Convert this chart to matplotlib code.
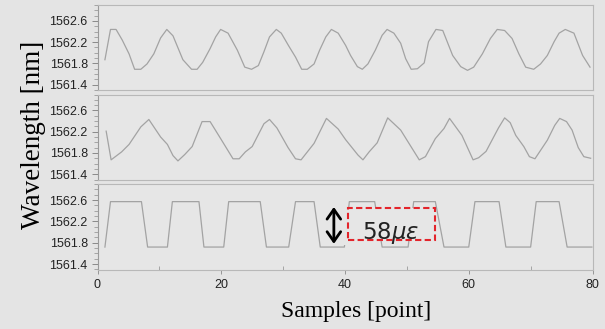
import numpy as np
import matplotlib
matplotlib.use("Agg")
import matplotlib.pyplot as plt
from matplotlib.patches import Rectangle
from matplotlib.ticker import MultipleLocator

# ---- data ----
t1 = [1.2, 2.1, 3.0, 4.0, 5.1, 6.0, 7.0, 8.0, 9.1, 10.2, 11.2, 12.2, 13.8, 15.2, 16.1, 17.0,
      18.2, 19.1, 19.9, 21.1, 22.6, 23.8, 24.9, 26.0, 26.9, 27.8, 28.9, 29.7, 30.9, 32.0,
      33.0, 33.9, 35.0, 35.9, 36.9, 37.8, 38.9, 40.1, 40.9, 42.0, 42.8, 43.7, 44.9, 46.0,
      46.8, 47.9, 49.0, 49.8, 50.7, 51.7, 52.8, 53.5, 54.7, 55.8, 57.4, 58.7, 59.8, 60.8,
      62.2, 63.5, 64.6, 65.8, 67.0, 68.1, 69.2, 70.5, 71.6, 72.7, 73.8, 74.6, 75.6, 77.0,
      78.4, 79.6]
w1 = [1561.87, 1562.44, 1562.44, 1562.24, 1561.98, 1561.69, 1561.69, 1561.79, 1561.98,
      1562.28, 1562.44, 1562.32, 1561.87, 1561.69, 1561.69, 1561.82, 1562.08, 1562.30,
      1562.44, 1562.37, 1562.05, 1561.73, 1561.69, 1561.76, 1562.02, 1562.30, 1562.44,
      1562.37, 1562.13, 1561.92, 1561.69, 1561.69, 1561.79, 1562.05, 1562.30, 1562.44,
      1562.37, 1562.14, 1561.95, 1561.74, 1561.69, 1561.79, 1562.05, 1562.33, 1562.44,
      1562.37, 1562.18, 1561.89, 1561.69, 1561.70, 1561.81, 1562.21, 1562.44, 1562.42,
      1561.95, 1561.74, 1561.67, 1561.73, 1561.98, 1562.27, 1562.44, 1562.42, 1562.27,
      1561.98, 1561.73, 1561.69, 1561.79, 1561.95, 1562.21, 1562.37, 1562.44, 1562.37,
      1561.95, 1561.73]

t2 = [1.4, 2.2, 3.9, 5.1, 7.0, 8.3, 10.2, 11.3, 12.2, 13.0, 14.1, 15.3, 16.9, 18.2, 19.9,
      21.9, 22.9, 23.9, 25.0, 26.9, 27.8, 29.0, 30.8, 32.0, 32.9, 35.0, 37.0, 38.9, 40.1,
      42.1, 42.9, 43.9, 45.2, 46.9, 49.0, 52.0, 53.0, 54.6, 56.0, 56.9, 58.9, 60.7, 61.6,
      62.8, 64.8, 65.8, 66.7, 67.6, 68.9, 69.8, 70.7, 72.7, 73.9, 74.7, 75.8, 76.7, 77.7,
      78.6, 79.7]
w2 = [1562.21, 1561.67, 1561.82, 1561.96, 1562.29, 1562.43, 1562.10, 1561.96, 1561.75,
      1561.65, 1561.77, 1561.92, 1562.39, 1562.39, 1562.07, 1561.69, 1561.69, 1561.82,
      1561.92, 1562.35, 1562.43, 1562.27, 1561.90, 1561.69, 1561.67, 1561.98, 1562.45,
      1562.25, 1562.05, 1561.76, 1561.67, 1561.82, 1561.99, 1562.46, 1562.23, 1561.67,
      1561.73, 1562.07, 1562.26, 1562.45, 1562.13, 1561.67, 1561.71, 1561.83, 1562.27,
      1562.46, 1562.37, 1562.13, 1561.92, 1561.73, 1561.69, 1562.04, 1562.32, 1562.45,
      1562.39, 1562.23, 1561.90, 1561.73, 1561.70]

hi, lo = 1562.57, 1561.72
t3 = [1.2, 2.1, 7.1, 8.1, 11.3, 12.1, 16.4, 17.2, 20.4, 21.2, 26.3, 27.3, 30.9, 32.0, 35.0,
      36.0, 39.9, 40.7, 44.8, 46.0, 50.2, 51.1, 54.6, 56.0, 60.0, 61.0, 64.9, 66.0, 70.0,
      70.9, 74.6, 75.9, 79.9]
w3 = [lo, hi, hi, lo, lo, hi, hi, lo, lo, hi, hi, lo, lo, hi, hi, lo, lo, hi, hi, lo, lo,
      hi, hi, lo, lo, hi, hi, lo, lo, hi, hi, lo, lo]

xticks = [0, 20, 40, 60, 80]
yticks = [1561.4, 1561.8, 1562.2, 1562.6]
strain_label = r"$58\mu\varepsilon$"

# ---- figure ----
W, H = 605, 329
fig = plt.figure(figsize=(W / 100, H / 100), dpi=100)
fig.patch.set_facecolor("#e4e4e4")
BG = "#e6e6e6"
LINE = "#a3a3a3"

def px_box(l, t, r, b):
    return [l / W, 1 - b / H, (r - l) / W, (b - t) / H]

rects = [px_box(97.5, 5, 592.5, 90), px_box(97.5, 94.5, 592.5, 179.5), px_box(97.5, 184, 592.5, 269.5)]
axes = [fig.add_axes(r) for r in rects]
series = [(t1, w1), (t2, w2), (t3, w3)]

for i, (ax, (tx, wy)) in enumerate(zip(axes, series)):
    ax.set_facecolor(BG)
    ax.plot(tx, wy, color=LINE, lw=0.9, zorder=2)
    ax.set_xlim(0, 80)
    ax.set_ylim(1561.3, 1562.9)
    ax.set_yticks(yticks)
    ax.yaxis.set_minor_locator(MultipleLocator(0.1))
    ax.set_yticklabels([f"{v:.1f}" for v in yticks], family="Liberation Sans", fontsize=9, color="#222222")
    ax.tick_params(axis="y", which="major", length=4, width=0.7, color="#8a8a8a", pad=3)
    ax.tick_params(axis="y", which="minor", length=3, width=0.6, color="#9a9a9a")
    for s in ax.spines.values():
        s.set_color("#b8b8b8")
        s.set_linewidth(0.8)
    ax.spines["left"].set_color("#9a9a9a")
    if i < 2:
        ax.set_xticks([])
    else:
        ax.set_xticks(xticks)
        ax.xaxis.set_minor_locator(MultipleLocator(10))
        ax.set_xticklabels([str(v) for v in xticks], family="Liberation Sans", fontsize=9, color="#222222")
        ax.tick_params(axis="x", which="major", length=3, width=0.6, color="#8a8a8a", pad=4)
        ax.tick_params(axis="x", which="minor", direction="in", length=3, width=0.6, color="#9a9a9a")

# annotation on the bottom panel
ax = axes[2]
ax.add_patch(Rectangle((36.4, 1561.76), 4.1, 0.84, facecolor=BG, edgecolor="none", zorder=3))
ax.add_patch(Rectangle((40.52, 1561.845), 14.1, 0.612, facecolor=BG, edgecolor="#e3242b",
                       lw=1.5, linestyle=(0, (3, 1.6)), zorder=4))
ax.annotate("", xy=(38.2, 1562.47), xytext=(38.2, 1561.78),
            arrowprops=dict(arrowstyle="<->, head_length=0.5, head_width=0.35", lw=2,
                            color="black", mutation_scale=14, shrinkA=0, shrinkB=0), zorder=5)
ax.text(47.4, 1561.87, strain_label, ha="center", va="baseline", fontsize=16.5, color="#222222", zorder=6)

fig.text(356 / W, 1 - 311 / H, "Samples [point]", ha="center", va="center",
         family="Liberation Serif", fontsize=17, color="black")
fig.text(34 / W, 1 - 135 / H, "Wavelength [nm]", ha="center", va="center", rotation=90,
         family="Liberation Serif", fontsize=19.5, color="black")

fig.savefig("out.png", dpi=100, facecolor=fig.get_facecolor())
